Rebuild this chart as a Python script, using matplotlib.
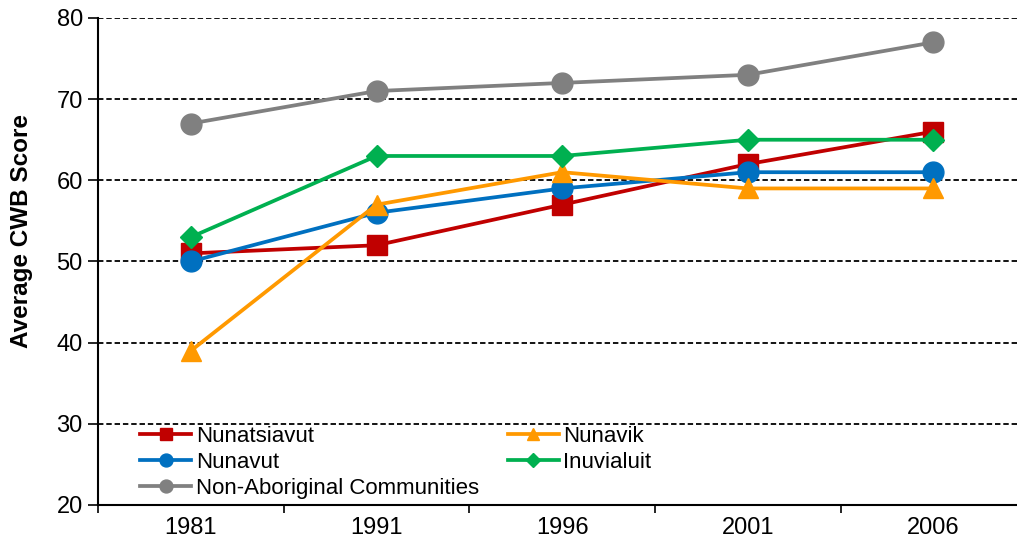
import matplotlib.pyplot as plt

plt.rcParams['font.family'] = ['Liberation Sans', 'DejaVu Sans']

years = ['1981', '1991', '1996', '2001', '2006']
nunatsiavut = [51, 52, 57, 62, 66]
nunavik = [39, 57, 61, 59, 59]
nunavut = [50, 56, 59, 61, 61]
inuvialuit = [53, 63, 63, 65, 65]
non_aboriginal = [67, 71, 72, 73, 77]

x = range(len(years))

fig = plt.figure(figsize=(10.17, 5.45), dpi=100)
ax = fig.add_axes([0.0964, 0.0734, 0.9036, 0.8936])

series = [
    ('Nunatsiavut', nunatsiavut, '#C00000', 's', 14),
    ('Nunavut', nunavut, '#0070C0', 'o', 15),
    ('Non-Aboriginal Communities', non_aboriginal, '#808080', 'o', 15),
    ('Nunavik', nunavik, '#FF9900', '^', 15),
    ('Inuvialuit', inuvialuit, '#00B050', 'D', 11),
]
for name, vals, col, mk, ms in series:
    ax.plot(x, vals, color=col, marker=mk, markersize=ms, linewidth=2.7,
            label=name)

ax.set_xlim(-0.5, 4.45)
ax.set_ylim(20, 80)
ax.set_yticks(range(20, 81, 10))
ax.set_xticks([i - 0.5 for i in range(5)])
ax.set_xticklabels([])
ax.set_xticks(list(x), minor=True)
ax.set_xticklabels(years, minor=True)
ax.tick_params(axis='x', which='minor', length=0, pad=9, labelsize=17)
ax.tick_params(axis='x', which='major', length=6, width=1.2, direction='out')
ax.tick_params(axis='y', length=7, width=1.2, labelsize=17, pad=4)

ax.grid(axis='y', color='black', linestyle=(0, (3, 1.6)), linewidth=1.3)
ax.set_axisbelow(True)
for s in ['top', 'right']:
    ax.spines[s].set_visible(False)
ax.spines['left'].set_linewidth(1.5)
ax.spines['bottom'].set_linewidth(1.5)

ax.set_ylabel('Average CWB Score', fontsize=17.5, fontweight='bold')
ax.yaxis.set_label_coords(-0.071, 0.563)

ax.legend(loc='upper left', bbox_to_anchor=(0.046, 0.162), ncol=2, frameon=False,
          fontsize=16, handlelength=2.3, handletextpad=0.2, labelspacing=0.22,
          columnspacing=1.3, borderaxespad=0, borderpad=0, markerscale=0.62)

fig.savefig('out.png', dpi=100)
